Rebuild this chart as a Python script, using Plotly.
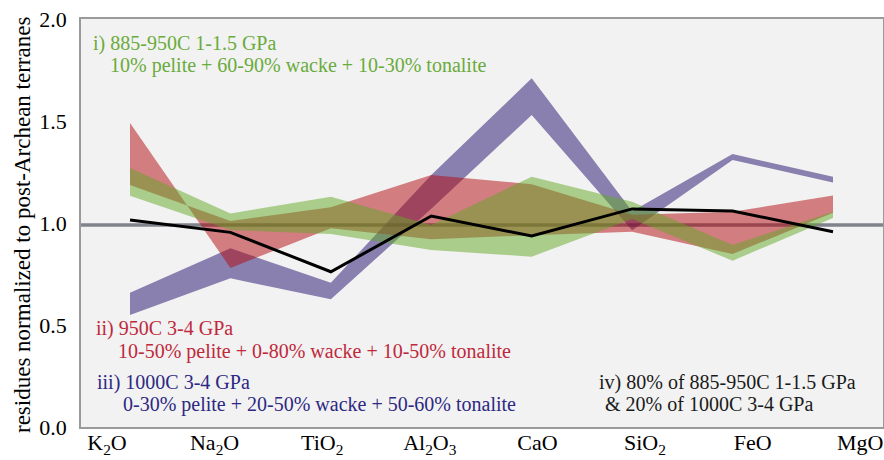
import plotly.graph_objects as go

# ---- data ----
categories = ["K<sub>2</sub>O", "Na<sub>2</sub>O", "TiO<sub>2</sub>", "Al<sub>2</sub>O<sub>3</sub>",
              "CaO", "SiO<sub>2</sub>", "FeO", "MgO"]

# i) 885-950C 1-1.5 GPa (two bounding series)
green_a = [1.27, 1.047, 1.129, 0.99, 1.227, 1.104, 0.892, 1.055]
green_b = [1.134, 0.966, 0.946, 0.868, 0.835, 1.02, 0.815, 1.025]
# ii) 950C 3-4 GPa
red_a = [1.49, 0.78, 0.974, 0.92, 0.94, 0.957, 0.848, 1.05]
red_b = [1.186, 1.01, 1.077, 1.235, 1.19, 1.04, 1.055, 1.135]
# iii) 1000C 3-4 GPa
purple_a = [0.658, 0.876, 0.707, 1.235, 1.709, 1.058, 1.338, 1.227]
purple_b = [0.549, 0.729, 0.626, 1.07, 1.529, 0.965, 1.309, 1.198]
# iv) 80% i + 20% iii
mix = [1.015, 0.954, 0.761, 1.034, 0.936, 1.069, 1.059, 0.957]

ref_value = 0.99
y_ticks = [0.0, 0.5, 1.0, 1.5, 2.0]

# ---- styling ----
FONT = "Liberation Serif"
W, H = 884, 460
L, R, T, B = 81, 1, 19, 33
PW, PH = W - L - R, H - T - B

xs = list(range(len(categories)))
x_range = [-0.488, 7.498]
# tick label positions (labels are spaced slightly wider than the data points)
label_pos = [i * 1.0714 - 0.229 for i in xs]

fig = go.Figure()

def band(a, b, color):
    fig.add_trace(go.Scatter(x=xs, y=a, mode="lines", line=dict(width=0, color=color),
                             showlegend=False, hoverinfo="skip"))
    fig.add_trace(go.Scatter(x=xs, y=b, mode="lines", line=dict(width=0, color=color),
                             fill="tonexty", fillcolor=color, showlegend=False, hoverinfo="skip"))

band(purple_a, purple_b, "rgba(34,14,110,0.5)")
band(red_a, red_b, "rgba(178,8,14,0.5)")
band(green_a, green_b, "rgba(98,168,38,0.5)")

fig.add_trace(go.Scatter(x=xs, y=mix, mode="lines", line=dict(width=3, color="black"),
                         showlegend=False, hoverinfo="skip"))

fig.add_shape(type="line", xref="paper", x0=0, x1=1, yref="y", y0=ref_value, y1=ref_value,
              line=dict(color="#80838c", width=3.5), layer="below")

def px2paper(px, py):
    return (px - L) / PW, (H - B - py) / PH

def note(text, px, py, color):
    x, y = px2paper(px, py)
    fig.add_annotation(text=text, x=x, y=y, xref="paper", yref="paper",
                       xanchor="left", yanchor="middle", showarrow=False,
                       font=dict(family=FONT, size=20, color=color))

GREEN, RED, NAVY, BLACK = "#6aab3c", "#c0283c", "#2d2882", "#1a1a1a"
note("i) 885-950C 1-1.5 GPa", 91, 43, GREEN)
note("10% pelite + 60-90% wacke + 10-30% tonalite", 108, 65, GREEN)
note("ii) 950C 3-4 GPa", 94, 328, RED)
note("10-50% pelite + 0-80% wacke + 10-50% tonalite", 116, 351, RED)
note("iii) 1000C 3-4 GPa", 95, 382, NAVY)
note("0-30% pelite + 20-50% wacke + 50-60% tonalite", 121, 404, NAVY)
note("iv) 80% of 885-950C 1-1.5 GPa", 597, 382, BLACK)
note("& 20% of 1000C 3-4 GPa", 603, 404, BLACK)

# y-axis title
tx, ty = px2paper(22, 225)
fig.add_annotation(text="residues normalized to post-Archean terranes", x=tx, y=ty,
                   xref="paper", yref="paper", textangle=-90, showarrow=False,
                   xanchor="center", yanchor="middle",
                   font=dict(family=FONT, size=23, color="black"))

fig.update_layout(
    width=W, height=H,
    margin=dict(l=L, r=R, t=T, b=B, autoexpand=False),
    paper_bgcolor="white", plot_bgcolor="#f2f2f2",
    font=dict(family=FONT, color="black"),
    xaxis=dict(range=x_range, tickmode="array", tickvals=label_pos, ticktext=categories,
               showgrid=False, zeroline=False, showline=True, mirror=True,
               linecolor="#9a9a9a", linewidth=1.5, ticks="",
               tickfont=dict(family=FONT, size=22, color="black"), ticklabelstandoff=-5),
    yaxis=dict(range=[0, 2], tickmode="array", tickvals=y_ticks,
               ticktext=[f"{v:.1f}" for v in y_ticks],
               showgrid=False, zeroline=False, showline=True, mirror=True,
               linecolor="#9a9a9a", linewidth=1.5, ticks="",
               tickfont=dict(family=FONT, size=22, color="black"), ticklabelstandoff=8),
)

fig.write_html("out.html")
